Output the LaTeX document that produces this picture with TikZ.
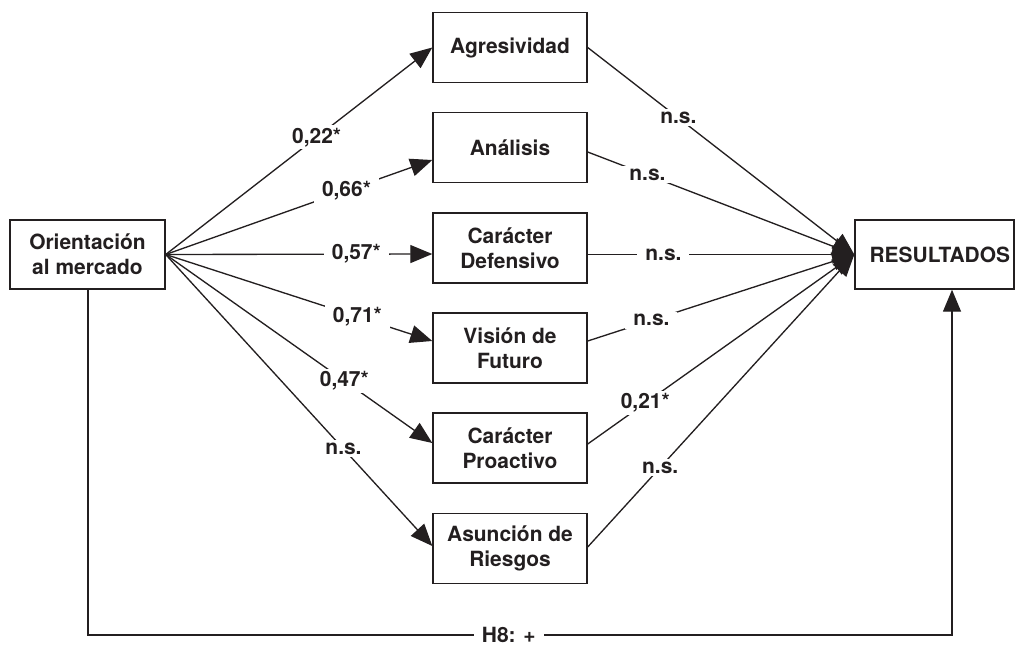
\documentclass[tikz,border=0pt]{standalone}
\usepackage{fontspec}
\setmainfont{TeX Gyre Heros}
\usetikzlibrary{arrows.meta,calc}
\definecolor{ink}{HTML}{231F20}
\begin{document}
\begin{tikzpicture}[x=0.75pt,y=-0.75pt,
  every node/.style={font=\fontsize{15.7}{18.8}\selectfont\bfseries, text=ink},
  box/.style={draw=ink, line width=1.05pt, fill=white, align=center,
    minimum width=115.5pt, minimum height=52.5pt, inner sep=0pt},
  link/.style={draw=ink, line width=1pt},
  arr/.style={link, -{Triangle[length=16.5pt,width=13.5pt]}},
  lab/.style={fill=white, inner xsep=6pt, inner ysep=2pt}]
\useasboundingbox (0,0) rectangle (1019,646);

% constructs
\node[box, minimum width=116.25pt, minimum height=51.75pt] (om) at (87.5,254.5) {Orientación\\al mercado};
\node[box] (agr) at (510,47.5)  {Agresividad};
\node[box] (ana) at (510,147.5) {Análisis};
\node[box] (def) at (510,248)   {Carácter\\Defensivo};
\node[box] (vis) at (510,348)   {Visión de\\Futuro};
\node[box] (pro) at (510,448)   {Carácter\\Proactivo};
\node[box] (asu) at (510,548.5) {Asunción de\\Riesgos};
\node[box, minimum width=119.25pt, minimum height=51.75pt] (res) at (934.5,254.5) {\hspace*{8pt}RESULTADOS};

% market orientation -> strategic dimensions
\draw[arr] (om.east) -- node[lab,pos=.566]{0,22*} (agr.west);
\draw[arr] (om.east) -- node[lab,pos=.678]{0,66*} ($(ana.west)+(0,12.5)$);
\draw[arr] (om.east) -- node[lab,pos=.715]{0,57*} ($(def.west)+(0,6)$);
\draw[arr] (om.east) -- node[lab,pos=.719]{0,71*} ($(vis.west)+(0,-7)$);
\draw[arr] (om.east) -- node[lab,pos=.670]{0,47*} ($(pro.west)+(0,-5)$);
\draw[arr] (om.east) -- node[lab,pos=.667]{n.s.}  ($(asu.west)+(0,-2.5)$);

% strategic dimensions -> results
\draw[arr] (agr.east) -- node[lab,pos=.340]{n.s.}  (res.west);
\draw[arr] ($(ana.east)+(0,4.5)$) -- node[lab,pos=.224]{n.s.} (res.west);
\draw[arr] ($(def.east)+(0,6.5)$) -- node[lab,pos=.284]{n.s.} (res.west);
\draw[arr] ($(vis.east)+(0,-7)$) -- node[lab,pos=.239]{n.s.} (res.west);
\draw[arr] ($(pro.east)+(0,-4)$) -- node[lab,pos=.216]{0,21*} (res.west);
\draw[arr] ($(asu.east)+(0,-1.5)$) -- node[lab,pos=.272]{n.s.} (res.west);

% direct effect H8
\coordinate (c1) at (88,635);
\coordinate (c2) at (952,635);
\draw[arr] (om.south -| c1) -- (c1) -- node[lab,pos=.487]{H8: +} (c2) -- (res.south -| c2);
\end{tikzpicture}
\end{document}
